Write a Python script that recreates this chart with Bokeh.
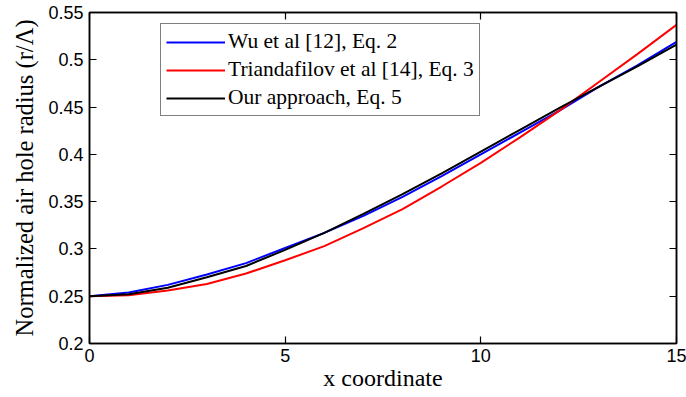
from bokeh.plotting import figure
from bokeh.models import LinearAxis, Range1d, Legend, LegendItem, FixedTicker, CustomJSTickFormatter
from bokeh.embed import file_html
from bokeh.resources import INLINE

x = list(range(16))
wu = [0.250, 0.254, 0.262, 0.273, 0.285, 0.301, 0.317, 0.335, 0.355, 0.377, 0.400, 0.423, 0.446, 0.471, 0.494, 0.519]
tri = [0.250, 0.251, 0.256, 0.263, 0.274, 0.288, 0.303, 0.322, 0.342, 0.366, 0.391, 0.418, 0.446, 0.476, 0.506, 0.537]
ours = [0.250, 0.252, 0.259, 0.270, 0.282, 0.299, 0.317, 0.337, 0.358, 0.380, 0.403, 0.426, 0.449, 0.471, 0.493, 0.516]
labels = ["Wu et al [12], Eq. 2", "Triandafilov et al [14], Eq. 3", "Our approach, Eq. 5"]
xticks = [0, 5, 10, 15]
yticks = [0.2, 0.25, 0.3, 0.35, 0.4, 0.45, 0.5, 0.55]

p = figure(width=686, height=397, output_backend="svg", toolbar_location=None,
           x_range=Range1d(0, 15), y_range=Range1d(0.2, 0.55),
           min_border_left=89, min_border_right=10, min_border_top=12, min_border_bottom=54)
p.grid.visible = False
p.outline_line_color = "black"
p.outline_line_width = 1.5
p.background_fill_color = "white"
p.border_fill_color = "white"

r1 = p.line(x, wu, line_color="#0000ff", line_width=2)
r2 = p.line(x, tri, line_color="#ff0000", line_width=2)
r3 = p.line(x, ours, line_color="black", line_width=2)

def style(ax, ticks):
    ax.ticker = FixedTicker(ticks=ticks)
    ax.major_tick_in = 7
    ax.major_tick_out = 0
    ax.minor_tick_in = 0
    ax.minor_tick_out = 0
    ax.axis_line_color = "black"
    ax.axis_line_width = 1.5
    ax.major_tick_line_color = "black"
    ax.major_tick_line_width = 1.2
    ax.major_label_text_font = "Liberation Sans"
    ax.major_label_text_font_size = "18px"
    ax.major_label_text_color = "black"
    ax.axis_label_text_font = "Liberation Serif"
    ax.axis_label_text_font_style = "normal"
    ax.axis_label_text_font_size = "24px"
    ax.axis_label_text_color = "black"

xa = p.xaxis[0]
style(xa, xticks)
xa.axis_label = "x coordinate"
xa.major_label_standoff = 5
xa.axis_label_standoff = 0
ya = p.yaxis[0]
style(ya, yticks)
ya.axis_label = "Normalized air hole radius (r/Λ)"
ya.axis_label_text_font_size = "24.5px"
ya.major_label_standoff = 6
ya.axis_label_standoff = 7

top = LinearAxis(formatter=CustomJSTickFormatter(code="return '';"))
style(top, xticks)
top.major_label_standoff = 0
p.add_layout(top, "above")
right = LinearAxis(formatter=CustomJSTickFormatter(code="return '';"))
style(right, yticks)
right.major_label_standoff = 0
p.add_layout(right, "right")

legend = Legend(items=[LegendItem(label=labels[0], renderers=[r1]),
                       LegendItem(label=labels[1], renderers=[r2]),
                       LegendItem(label=labels[2], renderers=[r3])],
                location=(71, 227))
legend.label_text_font = "Liberation Serif"
legend.label_text_font_size = "21.5px"
legend.label_text_color = "black"
legend.glyph_width = 59
legend.glyph_height = 22
legend.label_height = 22
legend.spacing = 3
legend.padding = 5
legend.margin = 0
legend.label_standoff = 3
legend.border_line_color = "black"
legend.border_line_width = 1.5
legend.background_fill_alpha = 1
p.add_layout(legend, "center")

open("out.html", "w").write(file_html(p, INLINE))
